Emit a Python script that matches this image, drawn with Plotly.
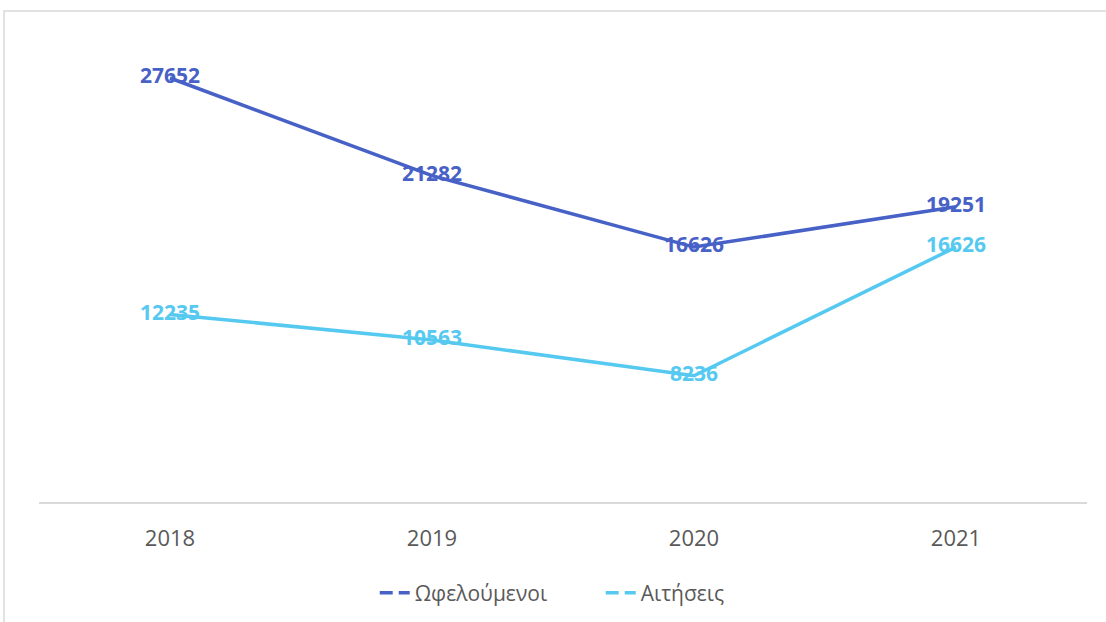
import plotly.graph_objects as go

years = ["2018", "2019", "2020", "2021"]
beneficiaries = [27652, 21282, 16626, 19251]
applications = [12235, 10563, 8236, 16626]
name_ben = "Ωφελούμενοι"
name_app = "Αιτήσεις"

c_dark = "#4761C6"
c_light = "#56C9F1"

fig = go.Figure()
for vals, name, col in [(beneficiaries, name_ben, c_dark), (applications, name_app, c_light)]:
    fig.add_trace(go.Scatter(
        x=years, y=vals, mode="lines+text", name=name, showlegend=False,
        line=dict(color=col, width=3.5),
        text=[str(v) for v in vals], textposition="middle center",
        textfont=dict(family="Open Sans", size=21, color=col, weight="bold"),
        cliponaxis=False,
    ))
    fig.add_trace(go.Scatter(
        x=[None], y=[None], mode="lines", name=name, showlegend=True,
        line=dict(color=col, width=3.5, dash="13px,6px"),
    ))

fig.update_layout(
    width=1106, height=622,
    margin=dict(l=39, r=19, t=42, b=120, autoexpand=False),
    paper_bgcolor="white", plot_bgcolor="white",
    font=dict(family="Open Sans", color="#595959"),
    xaxis=dict(type="category", range=[-0.5, 3.5], showgrid=False, zeroline=False,
               showline=True, linecolor="#D9D9D9", linewidth=1.5, automargin=False,
               ticks="outside", ticklen=16, tickcolor="rgba(0,0,0,0)",
               tickfont=dict(size=22, color="#595959", family="Open Sans")),
    yaxis=dict(range=[0, 30000], visible=False, showgrid=False, zeroline=False),
    legend=dict(orientation="h", x=0.536, xanchor="center", y=-0.198, yanchor="middle",
                font=dict(size=21, color="#595959", family="Open Sans"),
                entrywidth=181, entrywidthmode="pixels", tracegroupgap=0),
    shapes=[dict(type="rect", xref="paper", yref="paper",
                 x0=-0.0334, x1=1.1, y0=-0.3, y1=1.0674,
                 line=dict(color="#D9D9D9", width=1.5), fillcolor="rgba(0,0,0,0)", layer="below")],
)

fig.write_html("out.html", config={"displayModeBar": False},
               post_script="document.body.style.margin='0';document.body.style.padding='0';")
